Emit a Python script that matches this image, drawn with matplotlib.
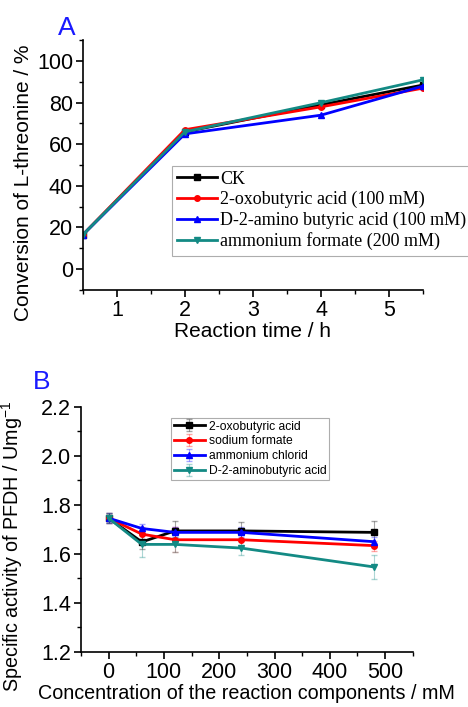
import matplotlib
matplotlib.use("Agg")
import matplotlib.pyplot as plt
import numpy as np
from matplotlib.ticker import MultipleLocator

# Panel A data
time_h = [0.5, 2, 4, 5.5]
conv_ck = [16.5, 66, 79, 88.5]
conv_oxo = [16.5, 67, 78, 87]
conv_amino = [16.5, 65, 74, 88]
conv_formate = [16.5, 66, 80, 91]
labels_a = ["CK", "2-oxobutyric acid (100 mM)", "D-2-amino butyric acid (100 mM)",
            "ammonium formate (200 mM)"]

# Panel B data
conc_mm = [0, 60, 120, 240, 480]
act_oxo = [1.745, 1.648, 1.693, 1.693, 1.687]
act_sodium = [1.745, 1.680, 1.657, 1.657, 1.633]
act_ammonium = [1.745, 1.703, 1.687, 1.687, 1.649]
act_amino = [1.745, 1.638, 1.638, 1.623, 1.546]
err_oxo = [0.02, 0.03, 0.04, 0.035, 0.045]
err_sodium = [0.02, 0.03, 0.05, 0.03, 0.02]
err_ammonium = [0.02, 0.02, 0.02, 0.02, 0.02]
err_amino = [0.02, 0.05, 0.03, 0.03, 0.047]
labels_b = ["2-oxobutyric acid", "sodium formate", "ammonium chlorid", "D-2-aminobutyric acid"]

colors = ["#000000", "#ff0000", "#0000ff", "#138a84"]
markers = ["s", "o", "^", "v"]

plt.rcParams['font.family'] = ['Liberation Sans', 'DejaVu Sans']
plt.rcParams['mathtext.fontset'] = 'custom'
plt.rcParams['mathtext.rm'] = 'Liberation Sans'

fig = plt.figure(figsize=(4.68, 7.07), dpi=100)

# ---------- Panel A ----------
axA = fig.add_axes([0.177, 0.590, 0.727, 0.353])
for y, c, m, lab in zip([conv_ck, conv_oxo, conv_amino, conv_formate], colors, markers, labels_a):
    axA.plot(time_h, y, color=c, marker=m, markersize=4, lw=2, label=lab, clip_on=True)
axA.set_xlim(0.5, 5.5)
axA.set_ylim(-10, 110)
axA.xaxis.set_major_locator(MultipleLocator(1))
axA.xaxis.set_minor_locator(MultipleLocator(0.5))
axA.yaxis.set_major_locator(MultipleLocator(20))
axA.yaxis.set_minor_locator(MultipleLocator(10))
axA.set_yticks([0, 20, 40, 60, 80, 100])
for s in ["top", "right"]:
    axA.spines[s].set_visible(False)
for s in ["left", "bottom"]:
    axA.spines[s].set_linewidth(1.2)
axA.tick_params(direction="out", labelsize=15.5, length=5, width=1.2, pad=2)
axA.tick_params(which="minor", direction="out", length=3, width=1)
axA.set_xlabel("Reaction time / h", fontsize=15, labelpad=1)
axA.set_ylabel("Conversion of L-threonine / %", fontsize=15)
axA.yaxis.set_label_coords(-0.147, 0.428)
legA = axA.legend(loc="upper left", bbox_to_anchor=(0.262, 0.498), frameon=True, fancybox=False,
                  prop={"family": "Liberation Serif", "size": 13}, handlelength=2.2,
                  handletextpad=0.2, labelspacing=0.19, borderpad=0.28, borderaxespad=0)
legA.get_frame().set_edgecolor("#999999")
legA.get_frame().set_linewidth(0.8)
fig.text(0.143, 0.961, "A", color="#1a1aff", fontsize=19, ha="center", va="center")

# ---------- Panel B ----------
axB = fig.add_axes([0.173, 0.078, 0.709, 0.347])
for y, e, c, m, lab in zip([act_oxo, act_sodium, act_ammonium, act_amino],
                           [err_oxo, err_sodium, err_ammonium, err_amino], colors, markers, labels_b):
    axB.errorbar(conc_mm, y, yerr=e, color=c, ecolor=c, elinewidth=0.8, capsize=2.5,
                 alpha=1, lw=2, marker=m, markersize=4, label=lab)
# lighten error bars
for coll in axB.collections:
    coll.set_alpha(0.35)
for ln in axB.lines:
    if ln.get_marker() in ("_",):
        ln.set_alpha(0.35)
axB.set_xlim(-50, 550)
axB.set_ylim(1.2, 2.2)
axB.xaxis.set_major_locator(MultipleLocator(100))
axB.xaxis.set_minor_locator(MultipleLocator(50))
axB.yaxis.set_major_locator(MultipleLocator(0.2))
axB.yaxis.set_minor_locator(MultipleLocator(0.1))
axB.set_xticks([0, 100, 200, 300, 400, 500])
for s in ["top", "right"]:
    axB.spines[s].set_visible(False)
for s in ["left", "bottom"]:
    axB.spines[s].set_linewidth(1.2)
axB.tick_params(direction="out", labelsize=15.5, length=5, width=1.2, pad=2)
axB.tick_params(which="minor", direction="out", length=3, width=1)
axB.set_xlabel("Concentration of the reaction components / mM", fontsize=14.2, labelpad=1)
axB.set_ylabel("Specific activity of PFDH / Umg$^{\\mathregular{-1}}$", fontsize=14.2)
axB.yaxis.set_label_coords(-0.169, 0.43)
handles, labs = axB.get_legend_handles_labels()
legB = axB.legend(handles, labs, loc="upper left", bbox_to_anchor=(0.27, 0.955), frameon=True,
                  fancybox=False, prop={"size": 8.7}, handlelength=2.6, handletextpad=0.3,
                  labelspacing=0.24, borderpad=0.25, borderaxespad=0)
legB.get_frame().set_edgecolor("#999999")
legB.get_frame().set_linewidth(0.8)
fig.text(0.089, 0.459, "B", color="#1a1aff", fontsize=19, ha="center", va="center")

fig.savefig("out.png", dpi=100)
